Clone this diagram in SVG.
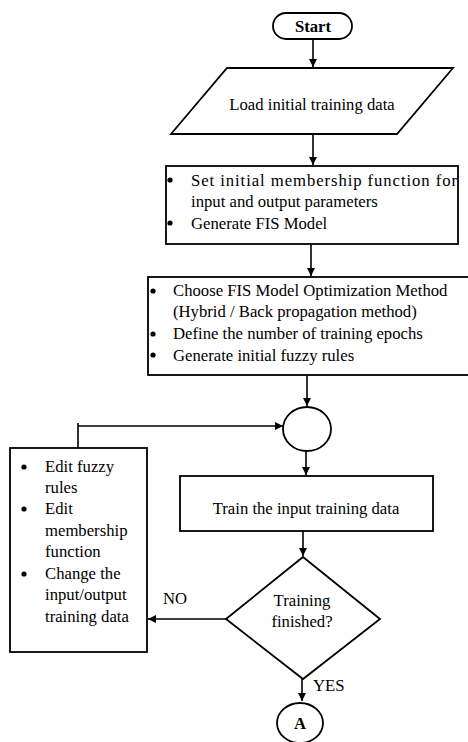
<svg xmlns="http://www.w3.org/2000/svg" width="468" height="742" viewBox="0 0 468 742">
<style>
.s{fill:#fff;stroke:#000;stroke-width:1.8}
.t{font-family:"Liberation Serif","Times New Roman",serif;font-size:16.7px;fill:#000}
.c{text-anchor:middle}
.b{fill:#000}
.ln{fill:none;stroke:#000;stroke-width:1.6}
</style>
<defs>
<marker id="ah" viewBox="0 0 10 10" refX="10" refY="5" markerWidth="5" markerHeight="5" orient="auto">
<path d="M0,0 L10,5 L0,10 z" fill="#000"/>
</marker>
</defs>
<rect width="468" height="742" fill="#fff"/>
<g id="connectors">
<line class="ln" x1="313" y1="39" x2="313" y2="67" marker-end="url(#ah)"/>
<line class="ln" x1="313" y1="134" x2="313" y2="165" marker-end="url(#ah)"/>
<line class="ln" x1="311" y1="244" x2="311" y2="276" marker-end="url(#ah)"/>
<line class="ln" x1="307" y1="376" x2="307" y2="406" marker-end="url(#ah)"/>
<polyline class="ln" points="78,448 78,423"/>
<line class="ln" x1="78" y1="426" x2="283" y2="426" marker-end="url(#ah)"/>
<line class="ln" x1="306" y1="451" x2="306" y2="475" marker-end="url(#ah)"/>
<line class="ln" x1="303" y1="531" x2="303" y2="556" marker-end="url(#ah)"/>
<line class="ln" x1="226" y1="619" x2="148" y2="619" marker-end="url(#ah)"/>
<line class="ln" x1="302" y1="679" x2="302" y2="701" marker-end="url(#ah)"/>
<text class="t" x="163" y="604">NO</text>
<text class="t" x="313" y="691">YES</text>
</g>
<g id="start">
<rect class="s" x="273" y="13" width="79" height="26" rx="13"/>
<text class="t c" x="313" y="32" font-weight="bold">Start</text>
</g>
<g id="load">
<polygon class="s" points="227,68 453,68 397,134 171,134"/>
<text class="t c" x="312" y="110">Load initial training data</text>
</g>
<g id="setmf">
<rect class="s" x="166" y="166" width="292" height="78"/>
<circle class="b" cx="170" cy="180" r="2.6"/>
<circle class="b" cx="170" cy="223" r="2.6"/>
<text class="t" x="191" y="186" textLength="266" lengthAdjust="spacing">Set initial membership function for</text>
<text class="t" x="191" y="207">input and output parameters</text>
<text class="t" x="191" y="229">Generate FIS Model</text>
</g>
<g id="choose">
<rect class="s" x="148" y="277" width="330" height="98"/>
<circle class="b" cx="153" cy="291" r="2.6"/>
<circle class="b" cx="153" cy="334" r="2.6"/>
<circle class="b" cx="153" cy="355" r="2.6"/>
<text class="t" x="173" y="296">Choose FIS Model Optimization Method</text>
<text class="t" x="173" y="317">(Hybrid / Back propagation method)</text>
<text class="t" x="173" y="339">Define the number of training epochs</text>
<text class="t" x="173" y="361">Generate initial fuzzy rules</text>
</g>
<g id="junction">
<ellipse class="s" cx="307" cy="429" rx="24" ry="22"/>
</g>
<g id="edit">
<rect class="s" x="10" y="448" width="137" height="204"/>
<circle class="b" cx="24" cy="467" r="2.6"/>
<circle class="b" cx="24" cy="509" r="2.6"/>
<circle class="b" cx="24" cy="574" r="2.6"/>
<text class="t" x="45" y="472">Edit fuzzy</text>
<text class="t" x="45" y="493">rules</text>
<text class="t" x="45" y="514">Edit</text>
<text class="t" x="45" y="536">membership</text>
<text class="t" x="45" y="557">function</text>
<text class="t" x="45" y="579">Change the</text>
<text class="t" x="45" y="600">input/output</text>
<text class="t" x="45" y="622">training data</text>
</g>
<g id="train">
<rect class="s" x="180" y="476" width="253" height="55"/>
<text class="t c" x="306" y="514">Train the input training data</text>
</g>
<g id="decision">
<polygon class="s" points="303,557 380,619 303,679 226,619"/>
<text class="t c" x="302" y="606">Training</text>
<text class="t c" x="302" y="627">finished?</text>
</g>
<g id="connectorA">
<ellipse class="s" cx="300" cy="723" rx="23" ry="20"/>
<text class="t c" x="300" y="729" font-weight="bold">A</text>
</g>
</svg>
